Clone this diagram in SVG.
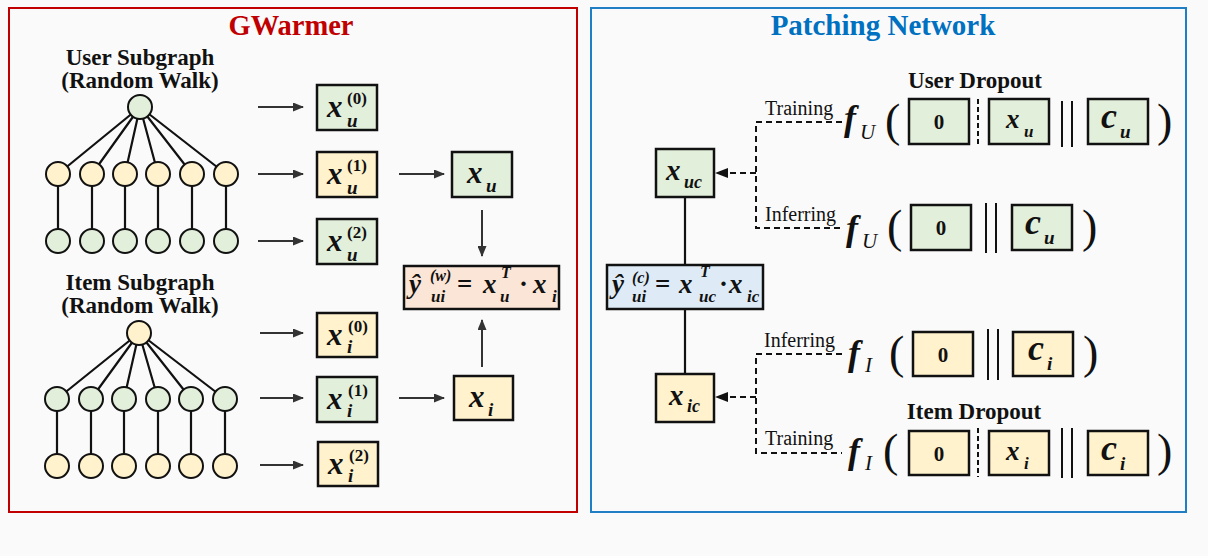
<svg xmlns="http://www.w3.org/2000/svg" width="1208" height="556" viewBox="0 0 1208 556">
<defs>
<style>
.bg{fill:#fafafa}
.box{stroke:#111;stroke-width:2.5}
.g{fill:#e2efda}.y{fill:#fff2cc}.p{fill:#fbe5d6}.b{fill:#deebf7}
.node{stroke:#111;stroke-width:2}
.edge{stroke:#111;stroke-width:2.2;fill:none}
.arr{stroke:#333;stroke-width:2;fill:none;marker-end:url(#ah)}
.darr{stroke:#111;stroke-width:2;fill:none;stroke-dasharray:6,4}
.bar{stroke:#111;stroke-width:2}
.dbar{stroke:#111;stroke-width:2;stroke-dasharray:5,3}
.m{font-family:Liberation Serif,serif;font-style:italic;font-weight:bold;fill:#111}
.up{font-family:Liberation Serif,serif;font-style:normal;font-weight:bold;fill:#111}
.lab{font-family:Liberation Serif,serif;font-size:20px;fill:#111}
.hd{font-family:Liberation Serif,serif;font-size:23px;font-weight:bold;fill:#111;text-anchor:middle}
.paren{font-family:Liberation Serif,serif;font-size:46px;fill:#111}
.fsub{font-family:Liberation Serif,serif;font-style:italic;font-size:21px;fill:#111}
</style>
<marker id="ah" markerUnits="userSpaceOnUse" markerWidth="11" markerHeight="9" refX="10" refY="4.5" orient="auto"><path d="M0,0 L11,4.5 L0,9 z" fill="#333"/></marker>
</defs>
<rect class="bg" x="0" y="0" width="1208" height="556"/>
<rect x="9" y="8" width="568" height="504" fill="#fafafa" stroke="#c00000" stroke-width="2"/>
<rect x="591" y="8" width="595" height="504" fill="#fafafa" stroke="#1f7fc6" stroke-width="2"/>
<text x="291" y="35" font-family="Liberation Serif,serif" font-size="28.5" font-weight="bold" fill="#c00000" text-anchor="middle">GWarmer</text>
<text x="883" y="35" font-family="Liberation Serif,serif" font-size="29" font-weight="bold" fill="#0070c0" text-anchor="middle">Patching Network</text>

<text class="hd" x="140" y="65">User Subgraph</text>
<text class="hd" x="140" y="88">(Random Walk)</text>
<text class="hd" x="140" y="290">Item Subgraph</text>
<text class="hd" x="140" y="313">(Random Walk)</text>
<text class="hd" x="975" y="88">User Dropout</text>
<text class="hd" x="974" y="419">Item Dropout</text>

<g id="connectors">
<g id="tree-edges">
<path class="edge" d="M140,107 L58,174 M140,107 L92,174 M140,107 L125,174 M140,107 L158,174 M140,107 L192,174 M140,107 L226,174 M58,174 V241 M92,174 V241 M125,174 V241 M158,174 V241 M192,174 V241 M226,174 V241"/>
<path class="edge" d="M139,333 L57,399 M139,333 L91,399 M139,333 L124,399 M139,333 L158,399 M139,333 L191,399 M139,333 L225,399 M57,399 V466 M91,399 V466 M124,399 V466 M158,399 V466 M191,399 V466 M225,399 V466"/>
</g>
<line class="arr" x1="258" y1="107" x2="303" y2="107"/>
<line class="arr" x1="258" y1="174" x2="303" y2="174"/>
<line class="arr" x1="258" y1="241" x2="303" y2="241"/>
<line class="arr" x1="260" y1="333" x2="303" y2="333"/>
<line class="arr" x1="260" y1="398" x2="303" y2="398"/>
<line class="arr" x1="260" y1="465" x2="303" y2="465"/>
<line class="arr" x1="399" y1="174" x2="444" y2="174"/>
<line class="arr" x1="399" y1="398" x2="444" y2="398"/>
<line class="arr" x1="482" y1="210" x2="482" y2="256"/>
<line class="arr" x1="482" y1="367" x2="482" y2="320"/>
<line class="edge" x1="685" y1="197" x2="685" y2="265"/>
<line class="edge" x1="685" y1="309" x2="685" y2="374"/>
<path class="darr" d="M842,122 H756 V228 H842"/>
<path class="darr" d="M842,354 H756 V453 H842"/>
<line class="darr" x1="756" y1="173" x2="728" y2="173"/>
<line class="darr" x1="756" y1="397" x2="728" y2="397"/>
<path d="M715,173 L728,168 L728,178 z" fill="#111"/>
<path d="M715,397 L728,392 L728,402 z" fill="#111"/>
</g>

<g id="user-tree">
<g id="u-root"><circle class="node g" cx="140" cy="107" r="12"/></g>
<g id="u-h1"><circle class="node y" cx="58" cy="174" r="12"/><circle class="node y" cx="92" cy="174" r="12"/><circle class="node y" cx="125" cy="174" r="12"/><circle class="node y" cx="158" cy="174" r="12"/><circle class="node y" cx="192" cy="174" r="12"/><circle class="node y" cx="226" cy="174" r="12"/></g>
<g id="u-h2"><circle class="node g" cx="58" cy="241" r="12"/><circle class="node g" cx="92" cy="241" r="12"/><circle class="node g" cx="125" cy="241" r="12"/><circle class="node g" cx="158" cy="241" r="12"/><circle class="node g" cx="192" cy="241" r="12"/><circle class="node g" cx="226" cy="241" r="12"/></g>
</g>
<g id="item-tree">
<g id="i-root"><circle class="node y" cx="139" cy="333" r="12"/></g>
<g id="i-h1"><circle class="node g" cx="57" cy="399" r="12"/><circle class="node g" cx="91" cy="399" r="12"/><circle class="node g" cx="124" cy="399" r="12"/><circle class="node g" cx="158" cy="399" r="12"/><circle class="node g" cx="191" cy="399" r="12"/><circle class="node g" cx="225" cy="399" r="12"/></g>
<g id="i-h2"><circle class="node y" cx="57" cy="466" r="12"/><circle class="node y" cx="91" cy="466" r="12"/><circle class="node y" cx="124" cy="466" r="12"/><circle class="node y" cx="158" cy="466" r="12"/><circle class="node y" cx="191" cy="466" r="12"/><circle class="node y" cx="225" cy="466" r="12"/></g>
</g>

<g id="xu0"><rect class="box g" x="317" y="85" width="60" height="45"/><text class="m" x="327" y="117" font-size="31">x</text><text class="up" x="347" y="104" font-size="17">(0)</text><text class="m" x="347" y="127" font-size="19">u</text></g>
<g id="xu1"><rect class="box y" x="317" y="152" width="60" height="45"/><text class="m" x="327" y="184" font-size="31">x</text><text class="up" x="347" y="171" font-size="17">(1)</text><text class="m" x="347" y="194" font-size="19">u</text></g>
<g id="xu2"><rect class="box g" x="317" y="219" width="60" height="45"/><text class="m" x="327" y="251" font-size="31">x</text><text class="up" x="347" y="238" font-size="17">(2)</text><text class="m" x="347" y="261" font-size="19">u</text></g>
<g id="xu"><rect class="box g" x="452" y="152" width="60" height="45"/><text class="m" x="467" y="183" font-size="31">x</text><text class="m" x="486" y="192" font-size="19">u</text></g>
<g id="xi0"><rect class="box y" x="317" y="313" width="60" height="44"/><text class="m" x="327" y="345" font-size="31">x</text><text class="up" x="348" y="332" font-size="17">(0)</text><text class="m" x="347" y="353" font-size="19">i</text></g>
<g id="xi1"><rect class="box g" x="317" y="377" width="60" height="45"/><text class="m" x="327" y="409" font-size="31">x</text><text class="up" x="348" y="396" font-size="17">(1)</text><text class="m" x="347" y="417" font-size="19">i</text></g>
<g id="xi2"><rect class="box y" x="318" y="442" width="60" height="44"/><text class="m" x="328" y="474" font-size="31">x</text><text class="up" x="349" y="461" font-size="17">(2)</text><text class="m" x="348" y="482" font-size="19">i</text></g>
<g id="xi"><rect class="box y" x="454" y="376" width="59" height="44"/><text class="m" x="469" y="407" font-size="31">x</text><text class="m" x="488" y="416" font-size="19">i</text></g>

<g id="yw"><rect class="box p" x="404" y="266" width="155" height="43"/>
<text class="m" x="409" y="293" font-size="27">ŷ</text><text class="m" x="430" y="281" font-size="16">(w)</text><text class="m" x="431" y="302" font-size="17">ui</text>
<text class="up" x="457" y="293" font-size="27">=</text>
<text class="m" x="483" y="293" font-size="27">x</text><text class="m" x="501" y="278" font-size="16">T</text><text class="m" x="500" y="302" font-size="17">u</text>
<text class="up" x="519" y="293" font-size="27">·</text>
<text class="m" x="533" y="293" font-size="27">x</text><text class="m" x="552" y="302" font-size="17">i</text></g>

<g id="xuc"><rect class="box g" x="656" y="149" width="58" height="48"/><text class="m" x="666" y="180" font-size="29">x</text><text class="m" x="684" y="188" font-size="18">uc</text></g>
<g id="yc"><rect class="box b" x="607" y="265" width="156" height="44"/>
<text class="m" x="612" y="293" font-size="27">ŷ</text><text class="m" x="632" y="283" font-size="16">(c)</text><text class="m" x="632" y="302" font-size="17">ui</text>
<text class="up" x="655" y="293" font-size="27">=</text>
<text class="m" x="679" y="293" font-size="27">x</text><text class="m" x="700" y="277" font-size="16">T</text><text class="m" x="699" y="302" font-size="17">uc</text>
<text class="up" x="719" y="293" font-size="27">·</text>
<text class="m" x="729" y="293" font-size="27">x</text><text class="m" x="747" y="302" font-size="17">ic</text></g>
<g id="xic"><rect class="box y" x="656" y="374" width="58" height="48"/><text class="m" x="669" y="405" font-size="29">x</text><text class="m" x="687" y="412" font-size="18">ic</text></g>

<text class="lab" x="765" y="115">Training</text>
<text class="lab" x="765" y="221">Inferring</text>
<text class="lab" x="764" y="347">Inferring</text>
<text class="lab" x="765" y="445">Training</text>

<g id="fu-train">
<text class="m" x="844" y="130" font-size="36">f</text><text class="fsub" x="860" y="139">U</text>
<text class="paren" x="885" y="136">(</text>
<rect class="box g" x="909" y="99" width="60" height="45"/><text class="up" x="939" y="129" font-size="21" text-anchor="middle">0</text>
<line class="dbar" x1="978" y1="99" x2="978" y2="146"/>
<rect class="box g" x="989" y="99" width="60" height="45"/><text class="m" x="1006" y="128" font-size="27">x</text><text class="m" x="1024" y="137" font-size="17">u</text>
<line class="bar" x1="1062" y1="101" x2="1062" y2="147"/><line class="bar" x1="1072" y1="101" x2="1072" y2="147"/>
<rect class="box g" x="1088" y="99" width="60" height="45"/><text class="m" x="1101" y="128" font-size="36">c</text><text class="m" x="1120" y="138" font-size="19">u</text>
<text class="paren" x="1157" y="136">)</text>
</g>
<g id="fu-infer">
<text class="m" x="846" y="240" font-size="36">f</text><text class="fsub" x="862" y="248">U</text>
<text class="paren" x="887" y="242">(</text>
<rect class="box g" x="911" y="205" width="60" height="45"/><text class="up" x="941" y="235" font-size="21" text-anchor="middle">0</text>
<line class="bar" x1="986" y1="203" x2="986" y2="253"/><line class="bar" x1="996" y1="203" x2="996" y2="253"/>
<rect class="box g" x="1012" y="205" width="60" height="45"/><text class="m" x="1025" y="234" font-size="36">c</text><text class="m" x="1044" y="244" font-size="19">u</text>
<text class="paren" x="1082" y="242">)</text>
</g>
<g id="fi-infer">
<text class="m" x="848" y="365" font-size="36">f</text><text class="fsub" x="865" y="372">I</text>
<text class="paren" x="889" y="368">(</text>
<rect class="box y" x="913" y="332" width="60" height="44"/><text class="up" x="943" y="362" font-size="21" text-anchor="middle">0</text>
<line class="bar" x1="988" y1="329" x2="988" y2="380"/><line class="bar" x1="998" y1="329" x2="998" y2="380"/>
<rect class="box y" x="1013" y="332" width="60" height="44"/><text class="m" x="1028" y="360" font-size="36">c</text><text class="m" x="1047" y="370" font-size="19">i</text>
<text class="paren" x="1083" y="368">)</text>
</g>
<g id="fi-train">
<text class="m" x="848" y="463" font-size="36">f</text><text class="fsub" x="865" y="470">I</text>
<text class="paren" x="883" y="466">(</text>
<rect class="box y" x="909" y="431" width="60" height="44"/><text class="up" x="939" y="461" font-size="21" text-anchor="middle">0</text>
<line class="dbar" x1="978" y1="428" x2="978" y2="477"/>
<rect class="box y" x="989" y="431" width="60" height="44"/><text class="m" x="1006" y="460" font-size="27">x</text><text class="m" x="1024" y="469" font-size="17">i</text>
<line class="bar" x1="1062" y1="428" x2="1062" y2="478"/><line class="bar" x1="1072" y1="428" x2="1072" y2="478"/>
<rect class="box y" x="1088" y="431" width="60" height="44"/><text class="m" x="1101" y="460" font-size="36">c</text><text class="m" x="1120" y="470" font-size="19">i</text>
<text class="paren" x="1157" y="466">)</text>
</g>
</svg>
